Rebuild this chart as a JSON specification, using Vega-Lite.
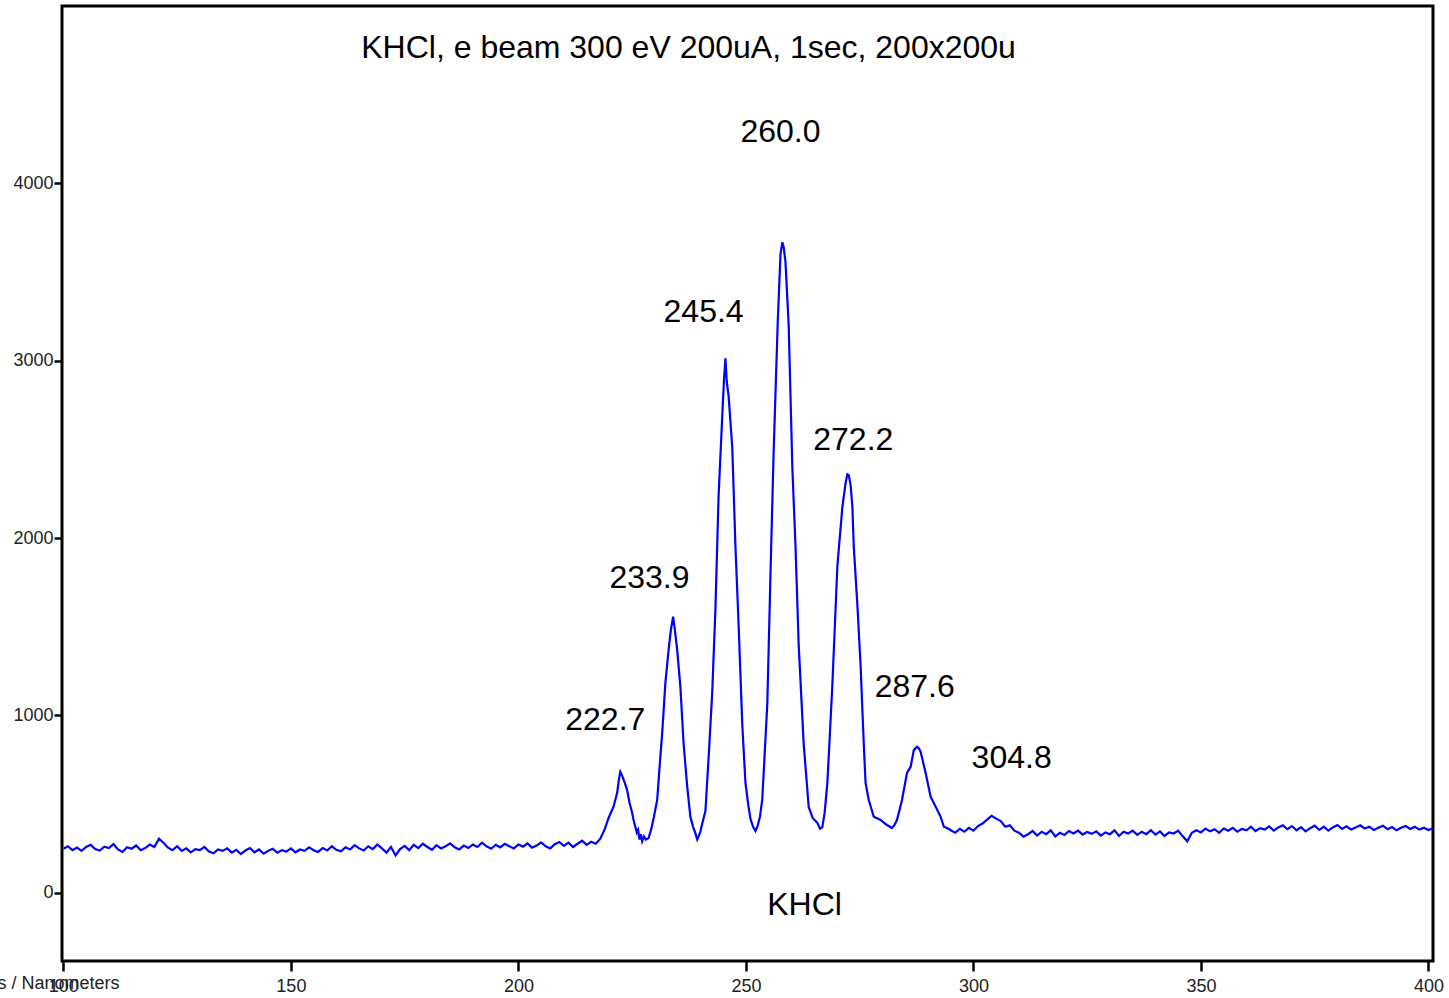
{
  "$schema": "https://vega.github.io/schema/vega-lite/v6.json",
  "width": 1371,
  "height": 955,
  "autosize": "none",
  "padding": {"left": 62, "top": 6, "right": 16, "bottom": 37},
  "background": "white",
  "config": {
    "view": {"stroke": "black", "strokeWidth": 3},
    "axis": {"grid": false, "domain": false, "labelFont": "Liberation Sans", "labelFontSize": 18, "labelColor": "#222", "tickColor": "black", "tickWidth": 2.5}
  },
  "datasets": {
    "spectrum": [
      {"wl":100,"counts":248},{"wl":101,"counts":262},{"wl":102,"counts":240},{"wl":103,"counts":255},{"wl":104,"counts":236},{"wl":105,"counts":258},{"wl":106,"counts":270},{"wl":107,"counts":246},{"wl":108,"counts":238},{"wl":109,"counts":260},
      {"wl":110,"counts":252},{"wl":111,"counts":274},{"wl":112,"counts":244},{"wl":113,"counts":230},{"wl":114,"counts":256},{"wl":115,"counts":248},{"wl":116,"counts":266},{"wl":117,"counts":240},{"wl":118,"counts":252},{"wl":119,"counts":272},
      {"wl":120,"counts":258},{"wl":121,"counts":305},{"wl":122,"counts":282},{"wl":123,"counts":254},{"wl":124,"counts":240},{"wl":125,"counts":262},{"wl":126,"counts":236},{"wl":127,"counts":250},{"wl":128,"counts":228},{"wl":129,"counts":246},
      {"wl":130,"counts":240},{"wl":131,"counts":258},{"wl":132,"counts":232},{"wl":133,"counts":222},{"wl":134,"counts":244},{"wl":135,"counts":236},{"wl":136,"counts":250},{"wl":137,"counts":226},{"wl":138,"counts":242},{"wl":139,"counts":218},
      {"wl":140,"counts":238},{"wl":141,"counts":252},{"wl":142,"counts":228},{"wl":143,"counts":244},{"wl":144,"counts":220},{"wl":145,"counts":236},{"wl":146,"counts":248},{"wl":147,"counts":226},{"wl":148,"counts":240},{"wl":149,"counts":232},
      {"wl":150,"counts":250},{"wl":151,"counts":228},{"wl":152,"counts":244},{"wl":153,"counts":236},{"wl":154,"counts":256},{"wl":155,"counts":240},{"wl":156,"counts":230},{"wl":157,"counts":252},{"wl":158,"counts":238},{"wl":159,"counts":262},
      {"wl":160,"counts":242},{"wl":161,"counts":234},{"wl":162,"counts":256},{"wl":163,"counts":244},{"wl":164,"counts":268},{"wl":165,"counts":250},{"wl":166,"counts":238},{"wl":167,"counts":262},{"wl":168,"counts":246},{"wl":169,"counts":272},
      {"wl":170,"counts":250},{"wl":171,"counts":226},{"wl":172,"counts":258},{"wl":173,"counts":210},{"wl":174,"counts":246},{"wl":175,"counts":264},{"wl":176,"counts":240},{"wl":177,"counts":270},{"wl":178,"counts":252},{"wl":179,"counts":276},
      {"wl":180,"counts":258},{"wl":181,"counts":242},{"wl":182,"counts":268},{"wl":183,"counts":250},{"wl":184,"counts":262},{"wl":185,"counts":278},{"wl":186,"counts":256},{"wl":187,"counts":244},{"wl":188,"counts":266},{"wl":189,"counts":252},
      {"wl":190,"counts":272},{"wl":191,"counts":258},{"wl":192,"counts":282},{"wl":193,"counts":262},{"wl":194,"counts":248},{"wl":195,"counts":270},{"wl":196,"counts":256},{"wl":197,"counts":276},{"wl":198,"counts":262},{"wl":199,"counts":250},
      {"wl":200,"counts":272},{"wl":201,"counts":260},{"wl":202,"counts":278},{"wl":203,"counts":254},{"wl":204,"counts":266},{"wl":205,"counts":284},{"wl":206,"counts":262},{"wl":207,"counts":250},{"wl":208,"counts":274},{"wl":209,"counts":286},
      {"wl":210,"counts":264},{"wl":211,"counts":282},{"wl":212,"counts":258},{"wl":213,"counts":276},{"wl":214,"counts":294},{"wl":215,"counts":270},{"wl":216,"counts":288},{"wl":217,"counts":276},{"wl":218,"counts":305},
      {"wl":219,"counts":360},{"wl":219.8,"counts":420},{"wl":220.9,"counts":485},{"wl":221.7,"counts":562},{"wl":222.1,"counts":640},{"wl":222.4,"counts":682},{"wl":222.8,"counts":660},{"wl":223.3,"counts":625},{"wl":223.9,"counts":579},{"wl":224.4,"counts":510},
      {"wl":225.0,"counts":449},{"wl":225.4,"counts":400},{"wl":225.7,"counts":372},{"wl":226.0,"counts":340},{"wl":226.3,"counts":355},{"wl":226.6,"counts":300},{"wl":226.9,"counts":330},{"wl":227.2,"counts":290},{"wl":227.6,"counts":318},{"wl":228.0,"counts":300},
      {"wl":228.6,"counts":307},{"wl":229.2,"counts":360},{"wl":229.8,"counts":430},{"wl":230.5,"counts":523},{"wl":231.0,"counts":700},{"wl":231.6,"counts":900},{"wl":232.3,"counts":1182},{"wl":233.0,"counts":1368},{"wl":233.5,"counts":1480},{"wl":234.0,"counts":1556},
      {"wl":234.3,"counts":1500},{"wl":234.9,"counts":1368},{"wl":235.6,"counts":1161},{"wl":236.3,"counts":843},{"wl":237.1,"counts":598},{"wl":237.8,"counts":428},{"wl":238.4,"counts":370},{"wl":238.9,"counts":336},{"wl":239.3,"counts":300},{"wl":239.6,"counts":318},
      {"wl":240.0,"counts":345},{"wl":240.5,"counts":400},{"wl":241.1,"counts":461},{"wl":241.8,"counts":760},{"wl":242.6,"counts":1131},{"wl":243.3,"counts":1599},{"wl":244.0,"counts":2242},{"wl":244.8,"counts":2687},{"wl":245.2,"counts":2900},{"wl":245.5,"counts":3014},
      {"wl":245.8,"counts":2880},{"wl":246.2,"counts":2800},{"wl":247.0,"counts":2512},{"wl":247.7,"counts":1954},{"wl":248.4,"counts":1508},{"wl":249.2,"counts":950},{"wl":249.9,"counts":619},{"wl":250.5,"counts":500},{"wl":251.0,"counts":416},{"wl":251.6,"counts":370},
      {"wl":252.1,"counts":348},{"wl":252.6,"counts":380},{"wl":253.1,"counts":430},{"wl":253.6,"counts":528},{"wl":254.7,"counts":1064},{"wl":255.4,"counts":1796},{"wl":256.1,"counts":2490},{"wl":257.0,"counts":3222},{"wl":257.6,"counts":3600},{"wl":258.0,"counts":3668},
      {"wl":258.3,"counts":3640},{"wl":258.7,"counts":3556},{"wl":259.4,"counts":3200},{"wl":260.2,"counts":2400},{"wl":260.9,"counts":1954},{"wl":261.6,"counts":1396},{"wl":262.7,"counts":838},{"wl":263.8,"counts":483},{"wl":264.7,"counts":420},{"wl":265.7,"counts":394},
      {"wl":266.3,"counts":360},{"wl":266.8,"counts":370},{"wl":267.3,"counts":450},{"wl":267.9,"counts":618},{"wl":269.0,"counts":1171},{"wl":270.1,"counts":1842},{"wl":271.2,"counts":2175},{"wl":271.9,"counts":2310},{"wl":272.3,"counts":2360},{"wl":272.6,"counts":2355},
      {"wl":273.0,"counts":2300},{"wl":273.4,"counts":2175},{"wl":273.7,"counts":1954},{"wl":274.5,"counts":1622},{"wl":275.2,"counts":1283},{"wl":275.9,"counts":842},{"wl":276.3,"counts":619},{"wl":277.0,"counts":523},{"wl":278.1,"counts":428},{"wl":279.6,"counts":410},
      {"wl":280.3,"counts":395},{"wl":281.0,"counts":382},{"wl":282.1,"counts":365},{"wl":282.6,"counts":380},{"wl":283.2,"counts":410},{"wl":284.3,"counts":523},{"wl":285.4,"counts":675},{"wl":286.2,"counts":710},{"wl":286.9,"counts":804},{"wl":287.6,"counts":823},
      {"wl":288.0,"counts":815},{"wl":288.4,"counts":795},{"wl":289.5,"counts":675},{"wl":290.6,"counts":541},{"wl":291.7,"counts":485},{"wl":292.8,"counts":428},{"wl":293.5,"counts":372},{"wl":294.2,"counts":365},
      {"wl":295,"counts":352},{"wl":296,"counts":338},{"wl":297,"counts":360},{"wl":298,"counts":344},{"wl":299,"counts":366},{"wl":300,"counts":350},{"wl":301,"counts":376},{"wl":302,"counts":390},{"wl":303,"counts":412},{"wl":304,"counts":434},
      {"wl":305,"counts":418},{"wl":306,"counts":404},{"wl":307,"counts":372},{"wl":308,"counts":380},{"wl":309,"counts":350},{"wl":310,"counts":338},{"wl":311,"counts":316},{"wl":312,"counts":330},{"wl":313,"counts":348},{"wl":314,"counts":322},
      {"wl":315,"counts":344},{"wl":316,"counts":330},{"wl":317,"counts":352},{"wl":318,"counts":318},{"wl":319,"counts":338},{"wl":320,"counts":326},{"wl":321,"counts":348},{"wl":322,"counts":334},{"wl":323,"counts":350},{"wl":324,"counts":328},
      {"wl":325,"counts":342},{"wl":326,"counts":332},{"wl":327,"counts":346},{"wl":328,"counts":322},{"wl":329,"counts":340},{"wl":330,"counts":330},{"wl":331,"counts":352},{"wl":332,"counts":320},{"wl":333,"counts":344},{"wl":334,"counts":334},
      {"wl":335,"counts":350},{"wl":336,"counts":326},{"wl":337,"counts":344},{"wl":338,"counts":330},{"wl":339,"counts":352},{"wl":340,"counts":328},{"wl":341,"counts":346},{"wl":342,"counts":320},{"wl":343,"counts":340},{"wl":344,"counts":334},
      {"wl":345,"counts":350},{"wl":346,"counts":318},{"wl":347,"counts":290},{"wl":348,"counts":338},{"wl":349,"counts":352},{"wl":350,"counts":340},{"wl":351,"counts":362},{"wl":352,"counts":346},{"wl":353,"counts":358},{"wl":354,"counts":338},
      {"wl":355,"counts":362},{"wl":356,"counts":350},{"wl":357,"counts":366},{"wl":358,"counts":344},{"wl":359,"counts":360},{"wl":360,"counts":352},{"wl":361,"counts":372},{"wl":362,"counts":348},{"wl":363,"counts":364},{"wl":364,"counts":356},
      {"wl":365,"counts":374},{"wl":366,"counts":350},{"wl":367,"counts":368},{"wl":368,"counts":380},{"wl":369,"counts":358},{"wl":370,"counts":376},{"wl":371,"counts":352},{"wl":372,"counts":370},{"wl":373,"counts":346},{"wl":374,"counts":364},
      {"wl":375,"counts":378},{"wl":376,"counts":354},{"wl":377,"counts":372},{"wl":378,"counts":350},{"wl":379,"counts":368},{"wl":380,"counts":382},{"wl":381,"counts":360},{"wl":382,"counts":374},{"wl":383,"counts":356},{"wl":384,"counts":368},
      {"wl":385,"counts":380},{"wl":386,"counts":362},{"wl":387,"counts":372},{"wl":388,"counts":354},{"wl":389,"counts":366},{"wl":390,"counts":378},{"wl":391,"counts":358},{"wl":392,"counts":370},{"wl":393,"counts":352},{"wl":394,"counts":366},
      {"wl":395,"counts":376},{"wl":396,"counts":360},{"wl":397,"counts":372},{"wl":398,"counts":356},{"wl":399,"counts":366},{"wl":400,"counts":354},{"wl":400.9,"counts":362}
    ],
    "labels": [
      {"text":"KHCl, e beam 300 eV 200uA, 1sec, 200x200u","wl":237.4,"counts":4761},
      {"text":"260.0","wl":257.6,"counts":4287},
      {"text":"245.4","wl":240.7,"counts":3273},
      {"text":"272.2","wl":273.6,"counts":2552},
      {"text":"233.9","wl":228.8,"counts":1775},
      {"text":"222.7","wl":219.1,"counts":974},
      {"text":"287.6","wl":287.1,"counts":1160},
      {"text":"304.8","wl":308.4,"counts":759},
      {"text":"KHCl","wl":262.9,"counts":-69}
    ]
  },
  "encoding": {
    "x": {"field": "wl", "type": "quantitative",
      "scale": {"domain": [99.7, 401], "nice": false, "zero": false},
      "axis": {"values": [100,150,200,250,300,350,400], "format": "d", "tickSize": 10, "labelPadding": 6, "labelFlush": false,
        "title": "s / Nanometers", "titleFont": "Liberation Sans", "titleFontSize": 18, "titleFontWeight": "normal", "titleColor": "#222",
        "titleAlign": "left", "titleAnchor": "start", "titleX": -65, "titleY": 22, "titleBaseline": "middle"}},
    "y": {"field": "counts", "type": "quantitative",
      "scale": {"domain": [-385, 5000], "nice": false, "zero": false},
      "axis": {"values": [0,1000,2000,3000,4000], "format": "d", "tickSize": 8, "labelPadding": 1, "title": null}}
  },
  "layer": [
    {"data": {"name": "spectrum"}, "mark": {"type": "line", "color": "#0000ff", "strokeWidth": 2.2, "clip": true}},
    {"data": {"name": "labels"}, "mark": {"type": "text", "font": "Liberation Sans", "fontSize": 32, "color": "black", "align": "center", "baseline": "middle"},
      "encoding": {"text": {"field": "text"}}}
  ]
}
